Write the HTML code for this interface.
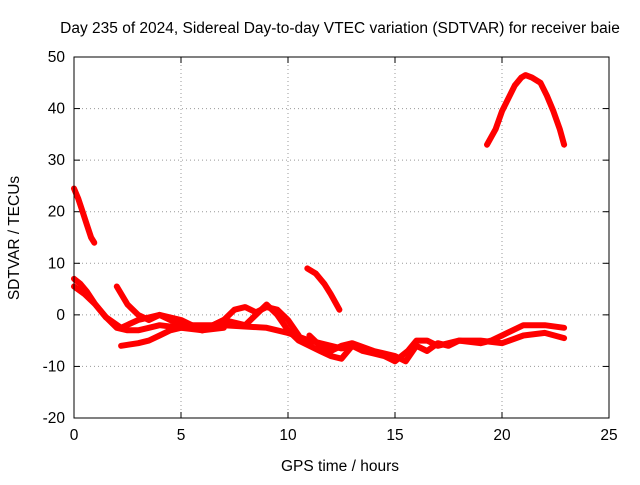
<!DOCTYPE html>
<html><head><meta charset="utf-8"><style>
body{margin:0;background:#fff;font-family:"Liberation Sans",sans-serif;}
svg text{font-family:"Liberation Sans",sans-serif;font-size:15.5px;fill:#000;}
</style></head><body>
<svg id="chart" width="640" height="480" viewBox="0 0 640 480">
<rect width="640" height="480" fill="#fff"/>
<text x="340" y="33" text-anchor="middle">Day 235 of 2024, Sidereal Day-to-day VTEC variation (SDTVAR) for receiver baie</text>
<text x="340" y="471" text-anchor="middle">GPS time / hours</text>
<text transform="translate(19,238) rotate(-90)" text-anchor="middle">SDTVAR / TECUs</text>
<g id="grid"></g><g id="ticks"></g><g id="series"></g>
<rect x="74" y="57" width="535" height="361" fill="none" stroke="#000" stroke-width="1"/>
</svg>
<script>
const xTicks=[0,5,10,15,20,25];
const yTicks=[-20,-10,0,10,20,30,40,50];
const trackA_t=[0,0.2,0.4,0.6,0.8,0.95];
const trackA_v=[24.5,22.5,20,17.5,15,14];
const trackB_t=[0,0.3,0.6,1,1.5,2,2.5,3,3.5,4,5,6,7];
const trackB_v=[7,6,4.5,2,-0.5,-2.5,-3,-3,-2.5,-2,-2.5,-3,-2.5];
const trackC_t=[0,0.5,1,1.5,2.2,3,4,5,6,7,7.5,8,8.5,9,9.5,10,10.5];
const trackC_v=[5.5,4,2,-0.5,-2.5,-1,0,-1,-3,-1,1,1.5,0.5,1.5,1,-1,-4];
const trackD_t=[2,2.5,3,3.5,4,4.5,5,6,7,8,9,9.5,10,10.5,11,11.5,12,12.5,13];
const trackD_v=[5.5,2,0,-1,0,-1,-2,-3,-1,-2,2,0,-3,-5,-6,-7,-8,-8.5,-6];
const trackE_t=[2.2,3,3.5,4,4.5,5.5,7,9,10,11,12,12.5,13,13.5,14,14.5,15,15.3,15.6,16,16.5,17,18,19,19.5,20,20.5,21,21.5,22,22.9];
const trackE_v=[-6,-5.5,-5,-4,-3,-2,-2,-2.5,-3.5,-5,-6,-6.5,-6,-7,-7.5,-8,-9,-8,-7,-5,-5,-6,-5,-5.5,-5,-4,-3,-2,-2,-2,-2.5];
const trackF_t=[11,11.5,12,12.5,13,14,15,15.5,16,16.5,17,17.5,18,19,20,21,22,22.9];
const trackF_v=[-4,-6,-7,-6,-5.5,-7,-8,-9,-6,-7,-5.5,-6,-5,-5,-5.5,-4,-3.5,-4.5];
const trackG_t=[10.9,11.3,11.7,12,12.4];
const trackG_v=[9,8,6,4,1];
const trackH_t=[19.3,19.7,20,20.3,20.6,20.9,21.1,21.4,21.8,22.1,22.4,22.7,22.9];
const trackH_v=[33,36,39.5,42,44.5,46,46.5,46,45,42.5,39.5,36,33];
const tracks=[[trackA_t,trackA_v],[trackB_t,trackB_v],[trackC_t,trackC_v],[trackD_t,trackD_v],[trackE_t,trackE_v],[trackF_t,trackF_v],[trackG_t,trackG_v],[trackH_t,trackH_v]];
const X0=74,X1=609,Y0=418,Y1=57;
const xs=t=>X0+(t-0)/(25-0)*(X1-X0);
const ys=v=>Y0-(v+20)/70*(Y0-Y1);
const NS="http://www.w3.org/2000/svg";
const g=document.getElementById('grid'),tk=document.getElementById('ticks'),sg=document.getElementById('series');
function mk(tag,a,p){const e=document.createElementNS(NS,tag);for(const k in a)e.setAttribute(k,a[k]);p.appendChild(e);return e;}
xTicks.forEach(t=>{const x=xs(t);
 if(t>0&&t<25){const l=mk('line',{x1:x,x2:x,y1:Y1,y2:Y0,stroke:'#999','stroke-dasharray':'1,3'},g);
 
 }
 mk('line',{x1:x,x2:x,y1:Y0,y2:Y0-6,stroke:'#000'},tk);mk('line',{x1:x,x2:x,y1:Y1,y2:Y1+6,stroke:'#000'},tk);
 const tx=mk('text',{x:x,y:Y0+22,'text-anchor':'middle'},tk);tx.textContent=String(t);
 
 });
yTicks.forEach(v=>{const y=ys(v);
 if(v>-20&&v<50){const l=mk('line',{x1:X0,x2:X1,y1:y,y2:y,stroke:'#999','stroke-dasharray':'1,3'},g);
 
 }
 mk('line',{x1:X0,x2:X0+6,y1:y,y2:y,stroke:'#000'},tk);mk('line',{x1:X1,x2:X1-6,y1:y,y2:y,stroke:'#000'},tk);
 const tx=mk('text',{x:X0-9,y:y+5,'text-anchor':'end'},tk);tx.textContent=String(v).replace('\u2212','-');
 
 });
tracks.forEach(([T,V],i)=>{
 const pts=T.map((t,j)=>xs(t).toFixed(1)+','+ys(V[j]).toFixed(1)).join(' ');
 const p=mk('polyline',{points:pts,fill:'none',stroke:'#f00','stroke-width':6,'stroke-linejoin':'round','stroke-linecap':'round'},sg);
 
 
});
</script>
</body></html>
